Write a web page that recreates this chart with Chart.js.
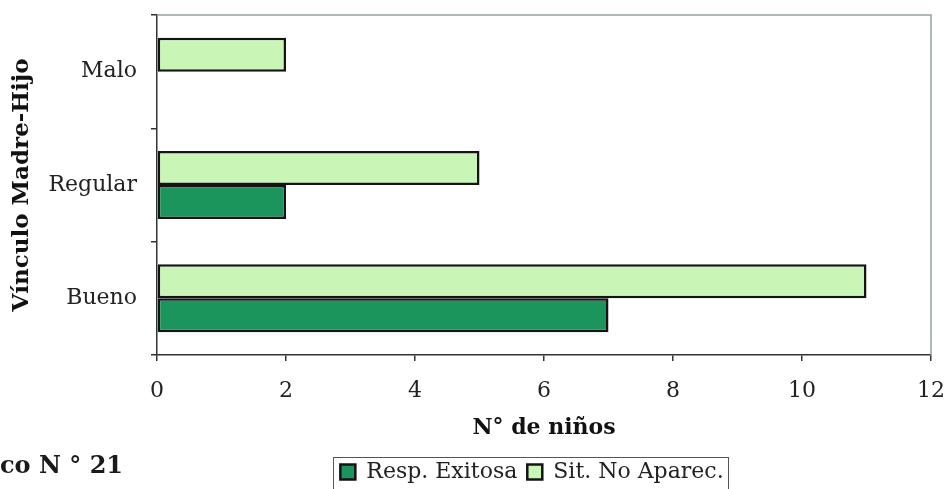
<!DOCTYPE html>
<html>
<head>
<meta charset="utf-8">
<script src="https://cdn.jsdelivr.net/npm/chart.js@4/dist/chart.umd.min.js"></script>
<style>
html,body{margin:0;padding:0;background:#fff;}
#wrap{width:949px;height:489px;position:relative;}
</style>
</head>
<body>
<div id="wrap"><canvas id="c" width="949" height="489"></canvas></div>
<script>
const categories = ['Malo', 'Regular', 'Bueno'];
const seriesNames = ['Resp. Exitosa', 'Sit. No Aparec.'];
const respExitosa = [0, 2, 7];
const sitNoAparec = [2, 5, 11];
const xTicks = [0, 2, 4, 6, 8, 10, 12];
const xTitle = 'N° de niños';
const yTitle = 'Vínculo Madre-Hijo';
const caption = 'co N ° 21';

const DARK = '#1b955b';
const LIGHT = '#c9f6b6';
const EDGE = '#141414';
const SERIF = '"DejaVu Serif", serif';

const framePlugin = {
  id: 'frame',
  afterLayout(chart) {
    const lg = chart.legend;
    if (lg) {
      lg.left -= 12; lg.right -= 12;
      lg.top += 4; lg.bottom += 4;
    }
  },
  afterDraw(chart) {
    const ctx = chart.ctx;
    const a = chart.chartArea;
    ctx.save();
    ctx.strokeStyle = '#8fa89a';
    ctx.lineWidth = 1.5;
    ctx.beginPath();
    ctx.moveTo(a.left, a.top);
    ctx.lineTo(a.right, a.top);
    ctx.lineTo(a.right, a.bottom);
    ctx.stroke();
    const lg = chart.legend;
    if (lg && lg.legendHitBoxes && lg.legendHitBoxes.length) {
      let minX = Infinity, maxX = -Infinity;
      lg.legendHitBoxes.forEach(h => { minX = Math.min(minX, h.left); maxX = Math.max(maxX, h.left + h.width); });
      ctx.strokeStyle = '#555';
      ctx.lineWidth = 1;
      ctx.strokeRect(Math.round(minX - 7) + 0.5, 457.5, Math.round(maxX - minX + 12), 40);
    }
    ctx.fillStyle = '#1a1a1a';
    ctx.font = 'bold 24px ' + SERIF;
    ctx.textBaseline = 'middle';
    ctx.textAlign = 'left';
    ctx.fillText(caption, 0, 467);
    ctx.restore();
  }
};

new Chart(document.getElementById('c'), {
  type: 'bar',
  data: {
    labels: categories,
    datasets: [
      { label: seriesNames[1], data: sitNoAparec, backgroundColor: LIGHT, borderColor: EDGE, borderWidth: 2.5, borderSkipped: false },
      { label: seriesNames[0], data: respExitosa, backgroundColor: DARK, borderColor: EDGE, borderWidth: 2.5, borderSkipped: false }
    ]
  },
  options: {
    indexAxis: 'y',
    responsive: false,
    animation: false,
    devicePixelRatio: 1,
    layout: { padding: { top: 15, right: 18, left: 0, bottom: 0 } },
    datasets: { bar: { barPercentage: 1.0, categoryPercentage: 0.6 } },
    scales: {
      x: {
        min: 0, max: 12,
        afterBuildTicks(scale) { scale.ticks = xTicks.map(v => ({ value: v })); },
        afterFit(scale) { scale.height = 92; scale.paddingLeft = 0; scale.paddingRight = 0; },
        grid: { display: true, drawOnChartArea: false, drawTicks: true, tickLength: 6, color: '#333', lineWidth: 1.5 },
        border: { display: true, color: '#333', width: 1.5 },
        ticks: { color: '#222', font: { family: SERIF, size: 22 }, padding: 17, maxRotation: 0 },
        title: { display: true, text: xTitle, color: '#111', font: { family: SERIF, size: 22, weight: 'bold' }, padding: { top: 0, bottom: 6 } }
      },
      y: {
        afterFit(scale) { scale.width = 157; scale.paddingTop = 0; scale.paddingBottom = 0; },
        grid: { display: true, drawOnChartArea: false, drawTicks: true, tickLength: 6, color: '#333', lineWidth: 1.5, offset: true },
        border: { display: true, color: '#333', width: 1.5 },
        ticks: { color: '#222', font: { family: SERIF, size: 22 }, padding: 14 },
        title: { display: true, text: yTitle, color: '#111', font: { family: SERIF, size: 23, weight: 'bold' }, padding: { top: 8, bottom: 0 } }
      }
    },
    plugins: {
      legend: {
        position: 'bottom',
        fullSize: false,
        labels: {
          color: '#222',
          font: { family: SERIF, size: 22 },
          boxWidth: 15, boxHeight: 15,
          padding: 10,
          sort: (a, b) => b.datasetIndex - a.datasetIndex
        }
      },
      tooltip: { enabled: false }
    }
  },
  plugins: [framePlugin]
});
</script>
</body>
</html>
